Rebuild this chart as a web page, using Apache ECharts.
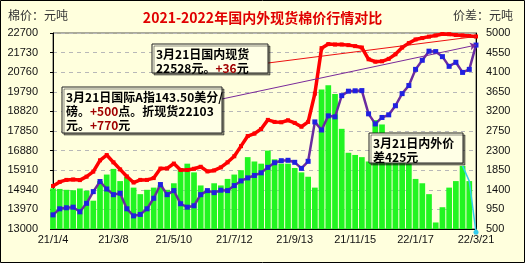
<!DOCTYPE html>
<html>
<head>
<meta charset="utf-8">
<script src="https://cdn.jsdelivr.net/npm/echarts@6/dist/echarts.min.js"></script>
<style>
  html, body { margin: 0; padding: 0; background: #FFFFDD; }
  #chart { width: 525px; height: 263px; }
</style>
</head>
<body>
<div id="chart"></div>
<script>
// 周度数据 (每周一)
const dates = [
  "21/1/4", "21/1/11", "21/1/18", "21/1/25", "21/2/1", "21/2/8", "21/2/15", "21/2/22",
  "21/3/1", "21/3/8", "21/3/15", "21/3/22", "21/3/29", "21/4/5", "21/4/12", "21/4/19",
  "21/4/26", "21/5/3", "21/5/10", "21/5/17", "21/5/24", "21/5/31", "21/6/7", "21/6/14",
  "21/6/21", "21/6/28", "21/7/5", "21/7/12", "21/7/19", "21/7/26", "21/8/2", "21/8/9",
  "21/8/16", "21/8/23", "21/8/30", "21/9/6", "21/9/13", "21/9/20", "21/9/27", "21/10/4",
  "21/10/11", "21/10/18", "21/10/25", "21/11/1", "21/11/8", "21/11/15", "21/11/22", "21/11/29",
  "21/12/6", "21/12/13", "21/12/20", "21/12/27", "22/1/3", "22/1/10", "22/1/17", "22/1/24",
  "22/1/31", "22/2/7", "22/2/14", "22/2/21", "22/2/28", "22/3/7", "22/3/14", "22/3/21"
];

// 国内现货 (元/吨)
const domestic = [
  15130, 15330, 15430, 15450, 15420, 15590, 15840, 16400, 16660, 16300,
  15950, 15600, 15300, 15430, 15430, 15520, 15990, 16000, 16240, 15920,
  15920, 15980, 16080, 15850, 15900, 16050, 16300, 16600, 17100, 17600,
  17720, 17950, 18400, 18300, 18280, 18380, 18250, 18060, 18300, 19700,
  21950, 22150, 22130, 22130, 22100, 22050, 21980, 21400, 21280, 21300,
  21420, 21650, 21980, 22200, 22380, 22450, 22520, 22580, 22650, 22640,
  22600, 22580, 22550, 22528
];

// 国际A指折现货 (元/吨)
const intlSpot = [
  13700, 14000, 14050, 14080, 13850, 14270, 14850, 15350, 14980, 14700,
  14770, 14000, 13650, 13720, 14000, 14520, 15200, 14700, 14900, 14250,
  14080, 14150, 14700, 14900, 14800, 14920, 14900, 15150, 15380, 15530,
  15650, 15780, 16050, 16280, 16380, 16400, 16300, 16000, 16350, 18300,
  17900, 18600, 18550, 19600, 19820, 19840, 19850, 18700, 18200, 18520,
  18650, 19100, 19700, 20100, 20900, 21350, 21800, 21780, 21530, 21050,
  21250, 20750, 20900, 22103
];

// 内外价差 (元/吨)
const spread = [
  1430, 1420, 1400, 1390, 1430, 1380, 1150, 1600, 1750, 1880,
  1600, 1700, 1450, 1300, 1400, 1450, 1500, 1400, 1550, 1900,
  2000, 1800, 1500, 1400, 1550, 1500, 1650, 1750, 1850, 2150,
  2050, 2000, 2300, 2100, 2000, 2000, 1900, 1800, 1700, 1450,
  3700, 3800, 3600, 2800, 2250, 2200, 2150, 2050, 3000, 2900,
  2600, 2400, 2200, 2000, 1650, 1550, 1300, 650, 1000, 1450,
  1600, 1950, 1600, 425
];

const priceAxis = { min: 13000, max: 22700, step: 970 };
const spreadAxis = { min: 500, max: 5000, step: 450 };

const last = dates.length - 1;
const font = '"Noto Sans CJK SC", sans-serif';
const plain = v => String(v);

// 最后一段价差用青色线
const tail = spread.map((v, i) => {
  if (i < last - 2) return null;
  if (i === last) return { value: v, symbol: "circle", symbolSize: 5 };
  return { value: v, symbol: "none" };
});

function box(x, y, w, h, text) {
  return {
    type: "group",
    z: 50,
    children: [
      {
        type: "rect",
        z: 50,
        shape: { x: x, y: y, width: w, height: h },
        style: { fill: "#FFFFE6", stroke: "#222", lineWidth: 1,
                 shadowColor: "rgba(0,0,0,0.45)", shadowOffsetX: 2, shadowOffsetY: 2, shadowBlur: 0 }
      },
      {
        type: "text",
        z: 51,
        x: x + 4, y: y + 3,
        style: {
          text: text, fill: "#000", font: "bold 12px " + font, lineHeight: 14,
          rich: { r: { fill: "#A00000", font: "bold 12px " + font } }
        }
      }
    ]
  };
}

const myChart = echarts.init(document.getElementById("chart"));

let option = {
  animation: false,
  backgroundColor: "#FFFFDD",
  title: {
    text: "2021-2022年国内外现货棉价行情对比",
    left: "center",
    top: 6,
    textStyle: { color: "#E00000", fontSize: 14, fontWeight: "bold", fontFamily: font }
  },
  grid: { left: 53, right: 49, top: 33, bottom: 34, show: true, borderColor: "#555", borderWidth: 1 },
  xAxis: {
    type: "category",
    data: dates,
    boundaryGap: false,
    axisLine: { lineStyle: { color: "#000" } },
    axisTick: { inside: true, length: 4, interval: 8, lineStyle: { color: "#000" } },
    axisLabel: { interval: 8, color: "#111", fontSize: 11, fontFamily: "Liberation Sans", margin: 5 },
    splitLine: { show: false }
  },
  yAxis: [
    {
      type: "value",
      min: priceAxis.min, max: priceAxis.max, interval: priceAxis.step,
      axisLine: { show: true, lineStyle: { color: "#000" } },
      axisTick: { show: true, length: 3, lineStyle: { color: "#000" } },
      axisLabel: { color: "#111", fontSize: 11, fontFamily: "Liberation Sans", margin: 15, formatter: plain },
      splitLine: { lineStyle: { color: "#B8B8B8", type: [4, 4] } }
    },
    {
      type: "value",
      min: spreadAxis.min, max: spreadAxis.max, interval: spreadAxis.step,
      axisLine: { show: true, lineStyle: { color: "#000" } },
      axisTick: { show: false },
      axisLabel: { color: "#111", fontSize: 11, fontFamily: "Liberation Sans", margin: 10, formatter: plain },
      splitLine: { show: false }
    }
  ],
  series: [
    {
      name: "内外价差",
      type: "bar",
      yAxisIndex: 1,
      data: spread,
      barCategoryGap: "15%",
      itemStyle: { color: "#22F522" },
      z: 1
    },
    {
      name: "价差尾段",
      type: "line",
      yAxisIndex: 1,
      data: tail,
      clip: false,
      lineStyle: { color: "#33CCEE", width: 1.5 },
      itemStyle: { color: "#33CCEE" },
      z: 2
    },
    {
      name: "国际折现货",
      type: "line",
      data: intlSpot,
      symbol: "rect",
      symbolSize: 5,
      showAllSymbol: true,
      lineStyle: { color: "#6A2CA0", width: 2.5 },
      itemStyle: { color: "#2020E0" },
      z: 3,
      markLine: {
        silent: true,
        symbol: ["none", "arrow"],
        symbolSize: 6,
        label: { show: false },
        lineStyle: { color: "#7A2A9A", width: 1, type: "solid" },
        data: [[{ x: 222, y: 99 }, { coord: [last, intlSpot[last]] }]]
      }
    },
    {
      name: "国内现货",
      type: "line",
      data: domestic,
      symbol: "rect",
      symbolSize: 4,
      showAllSymbol: true,
      lineStyle: { color: "#FF0000", width: 3.5 },
      itemStyle: { color: "#FF0000" },
      z: 4,
      markLine: {
        silent: true,
        symbol: ["none", "none"],
        label: { show: false },
        lineStyle: { color: "#EE1111", width: 1, type: "solid" },
        data: [[{ x: 268, y: 63 }, { coord: [last, domestic[last]] }]]
      }
    }
  ],
  graphic: [
    { type: "text", left: 8, top: 9, style: { text: "棉价：元吨", fill: "#333", font: "12px " + font } },
    { type: "text", right: 12, top: 9, style: { text: "价差：元吨", fill: "#333", font: "12px " + font } },
    box(152, 44, 116, 29, "3月21日国内现货\n22528元。{r|+36}元"),
    box(62, 87, 160, 46, "3月21日国际A指143.50美分/\n磅。{r|+500}点。折现货22103\n元。{r|+770}元"),
    box(369, 133, 94, 30, "3月21日内外价\n差425元"),
    { type: "rect", shape: { x: 0.5, y: 0.5, width: 524, height: 262 }, style: { fill: "none", stroke: "#000", lineWidth: 1 }, z: 100 }
  ]
};

myChart.setOption(option);
</script>
</body>
</html>
